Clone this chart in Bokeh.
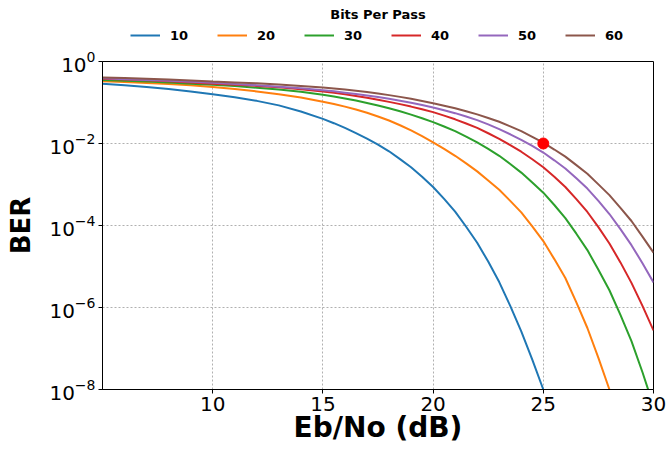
from bokeh.plotting import figure
from bokeh.layouts import column
from bokeh.models import Legend, LegendItem, FixedTicker, Range1d, Label
from bokeh.embed import file_html
from bokeh.resources import INLINE

# Eb/No grid (dB): 1 dB steps up to 14 dB, then 0.5 dB steps
ebno = [5, 6, 7, 8, 9, 10, 11, 12, 13, 14,
        15, 15.5, 16, 16.5, 17, 17.5, 18, 18.5, 19, 19.5, 20, 20.5, 21, 21.5,
        22, 22.5, 23, 23.5, 24, 24.5, 25, 25.5, 26, 26.5, 27, 27.5, 28, 28.5,
        29, 29.5, 30]

# log10(BER), one list per "bits per pass"
ber_exp_10 = [-0.54, -0.58, -0.62, -0.67, -0.73, -0.80, -0.87, -0.96, -1.07, -1.22,
              -1.40, -1.505, -1.62, -1.745, -1.88, -2.03, -2.19, -2.38, -2.58, -2.81,
              -3.06, -3.35, -3.66, -4.03, -4.42, -4.88, -5.38, -5.96, -6.58, -7.27, -8.00]
ber_exp_20 = [-0.48, -0.50, -0.525, -0.55, -0.58, -0.62, -0.67, -0.73, -0.80, -0.88,
              -0.98, -1.035, -1.10, -1.17, -1.25, -1.34, -1.44, -1.555, -1.68, -1.82,
              -1.97, -2.13, -2.30, -2.485, -2.68, -2.90, -3.13, -3.40, -3.68, -4.02,
              -4.38, -4.82, -5.28, -5.875, -6.50, -7.23, -8.00]
ber_exp_30 = [-0.45, -0.47, -0.49, -0.515, -0.54, -0.57, -0.60, -0.64, -0.685, -0.74,
              -0.81, -0.853, -0.90, -0.953, -1.01, -1.073, -1.14, -1.215, -1.295, -1.385,
              -1.48, -1.586, -1.70, -1.83, -1.97, -2.13, -2.30, -2.50, -2.71, -2.95,
              -3.20, -3.50, -3.82, -4.20, -4.60, -5.08, -5.58, -6.18, -6.82, -7.58, -8.40]
ber_exp_40 = [-0.42, -0.44, -0.46, -0.48, -0.51, -0.54, -0.565, -0.595, -0.63, -0.675,
              -0.73, -0.763, -0.80, -0.84, -0.885, -0.933, -0.985, -1.04, -1.10, -1.165,
              -1.235, -1.32, -1.41, -1.512, -1.62, -1.75, -1.885, -2.04, -2.20, -2.385,
              -2.58, -2.81, -3.06, -3.355, -3.67, -4.04, -4.44, -4.90, -5.40, -5.96, -6.56]
ber_exp_50 = [-0.41, -0.43, -0.45, -0.47, -0.495, -0.52, -0.55, -0.58, -0.615, -0.655,
              -0.70, -0.728, -0.76, -0.793, -0.83, -0.868, -0.91, -0.955, -1.005, -1.06,
              -1.12, -1.188, -1.26, -1.342, -1.43, -1.535, -1.65, -1.775, -1.91, -2.06,
              -2.22, -2.41, -2.61, -2.85, -3.10, -3.40, -3.72, -4.09, -4.48, -4.92, -5.39]
ber_exp_60 = [-0.39, -0.405, -0.42, -0.44, -0.465, -0.49, -0.51, -0.53, -0.56, -0.595,
              -0.635, -0.658, -0.685, -0.713, -0.745, -0.781, -0.82, -0.863, -0.91, -0.963,
              -1.02, -1.078, -1.14, -1.213, -1.29, -1.378, -1.47, -1.583, -1.70, -1.837,
              -1.98, -2.147, -2.32, -2.527, -2.74, -2.997, -3.26, -3.57, -3.89, -4.27, -4.66]

series_labels = ["10", "20", "30", "40", "50", "60"]
series_colors = ["#1f77b4", "#ff7f0e", "#2ca02c", "#d62728", "#9467bd", "#8c564b"]
series_exps = [ber_exp_10, ber_exp_20, ber_exp_30, ber_exp_40, ber_exp_50, ber_exp_60]

marker_x = [25]
marker_y = [1e-2]

x_ticks = [10, 15, 20, 25, 30]
y_ticks = [1e-8, 1e-6, 1e-4, 1e-2, 1.0]

FONT = "DejaVu Sans"
W = 668
TOP_H = 45
MAIN_H = 449 - TOP_H
LEFT = 102
RIGHT = 15

# ---------------- main chart ----------------
p = figure(width=W, height=MAIN_H, y_axis_type="log",
           x_range=Range1d(5, 30), y_range=Range1d(1e-8, 1.0),
           output_backend="svg", toolbar_location=None)
p.min_border_left = LEFT
p.min_border_right = RIGHT
p.min_border_bottom = 60
p.min_border_top = 16

for col, ex in zip(series_colors, series_exps):
    xs = ebno[:len(ex)]
    ys = [10 ** v for v in ex]
    p.line(xs, ys, line_color=col, line_width=2)

p.scatter(marker_x, marker_y, size=11, color="red")

p.xaxis.ticker = FixedTicker(ticks=x_ticks)
p.yaxis.ticker = FixedTicker(ticks=y_ticks)
p.xaxis.minor_tick_line_color = None
p.yaxis.minor_tick_line_color = None
for ax in (p.xaxis, p.yaxis):
    ax.major_tick_out = 4
    ax.major_tick_in = 0
    ax.major_label_text_font = FONT
    ax.major_label_text_font_size = "20px"
    ax.major_label_text_color = "black"
    ax.major_label_standoff = 3
    ax.axis_label_text_font = FONT
    ax.axis_label_text_font_style = "bold"
    ax.axis_label_text_color = "black"
p.xaxis.axis_label = "Eb/No (dB)"
p.yaxis.axis_label = "BER"
p.xaxis.axis_label_text_font_size = "28px"
p.yaxis.axis_label_text_font_size = "26px"
p.xaxis.axis_label_standoff = -3
p.yaxis.axis_label_standoff = 10

p.xgrid.grid_line_dash = "2 2"
p.ygrid.grid_line_dash = "2 2"
p.xgrid.grid_line_color = "#b0b0b0"
p.ygrid.grid_line_color = "#b0b0b0"

p.outline_line_color = "black"
p.outline_line_alpha = 1

# ---------------- legend strip above the chart ----------------
top = figure(width=W, height=TOP_H, x_range=Range1d(0, 1), y_range=Range1d(0, 1),
             output_backend="svg", toolbar_location=None,
             x_axis_location=None, y_axis_location=None)
top.min_border_left = LEFT
top.min_border_right = RIGHT
top.min_border_top = 0
top.min_border_bottom = 0
top.outline_line_color = None
top.xgrid.visible = False
top.ygrid.visible = False

# legend-only renderers, kept outside the visible range
items = []
for lab, col in zip(series_labels, series_colors):
    r = top.line([-10, -9], [-10, -10], line_color=col, line_width=2)
    items.append(LegendItem(label=lab, renderers=[r]))

legend = Legend(items=items, orientation="horizontal", location=(130 - LEFT, 0),
                glyph_width=30, label_standoff=10, label_width=20, spacing=27,
                padding=0, margin=0,
                border_line_color=None, background_fill_alpha=0,
                label_text_font=FONT, label_text_font_style="bold",
                label_text_font_size="13px", label_text_color="black")
top.add_layout(legend, "center")

legend_title = Label(x=(W - LEFT - RIGHT) / 2, y=TOP_H - 14,
                     x_units="screen", y_units="screen",
                     text="Bits Per Pass", text_align="center", text_baseline="middle",
                     text_font=FONT, text_font_style="bold", text_font_size="13px",
                     text_color="black")
top.add_layout(legend_title)

layout = column(top, p, spacing=0)
open("out.html", "w").write(file_html(layout, INLINE))
